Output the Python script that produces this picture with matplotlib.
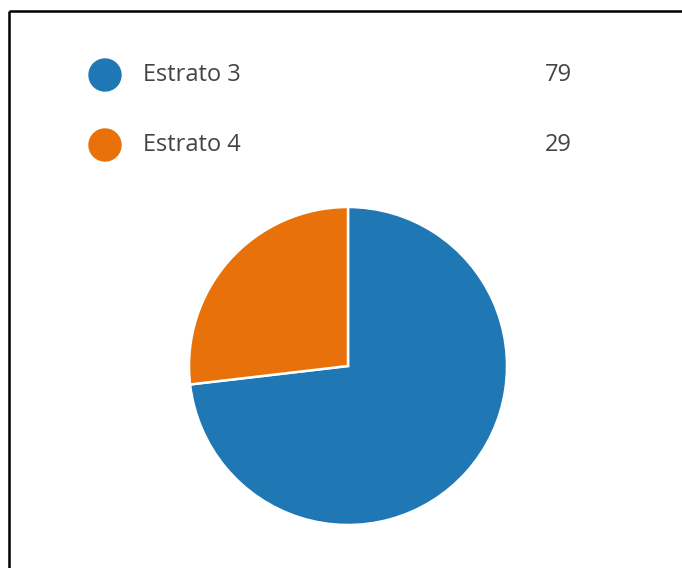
import matplotlib.pyplot as plt
from matplotlib.patches import Circle

labels = ['Estrato 3', 'Estrato 4']
values = [79, 29]
colors = ['#1f77b4', '#e8710a']

W, H = 682, 568
fig = plt.figure(figsize=(W / 100, H / 100), dpi=100)
ax = fig.add_axes([0, 0, 1, 1])

# pie, first slice starting at 12 o'clock going clockwise
ax.pie(values, colors=colors, startangle=90, counterclock=False,
       center=(348, H - 366), radius=159, frame=True,
       wedgeprops=dict(edgecolor='white', linewidth=1.8))
ax.set_xlim(0, W)
ax.set_ylim(0, H)
ax.set_aspect('equal')
ax.axis('off')

# legend with values
for i, (lab, val, col) in enumerate(zip(labels, values, colors)):
    y = H - (75 + i * 70)
    ax.add_patch(Circle((105, y), 16, color=col))
    ax.text(143, y, lab, fontsize=17, color='#444444', va='center', ha='left',
            family='Open Sans')
    ax.text(572, y, str(val), fontsize=17, color='#444444', va='center', ha='right',
            family='Open Sans')

# frame lines (top and left)
ax.plot([9, W], [H - 11, H - 11], color='black', lw=1.8, solid_capstyle='butt')
ax.plot([9, 9], [H - 11, 0], color='black', lw=1.8, solid_capstyle='butt')

fig.savefig('out.png', dpi=100, facecolor='white')
